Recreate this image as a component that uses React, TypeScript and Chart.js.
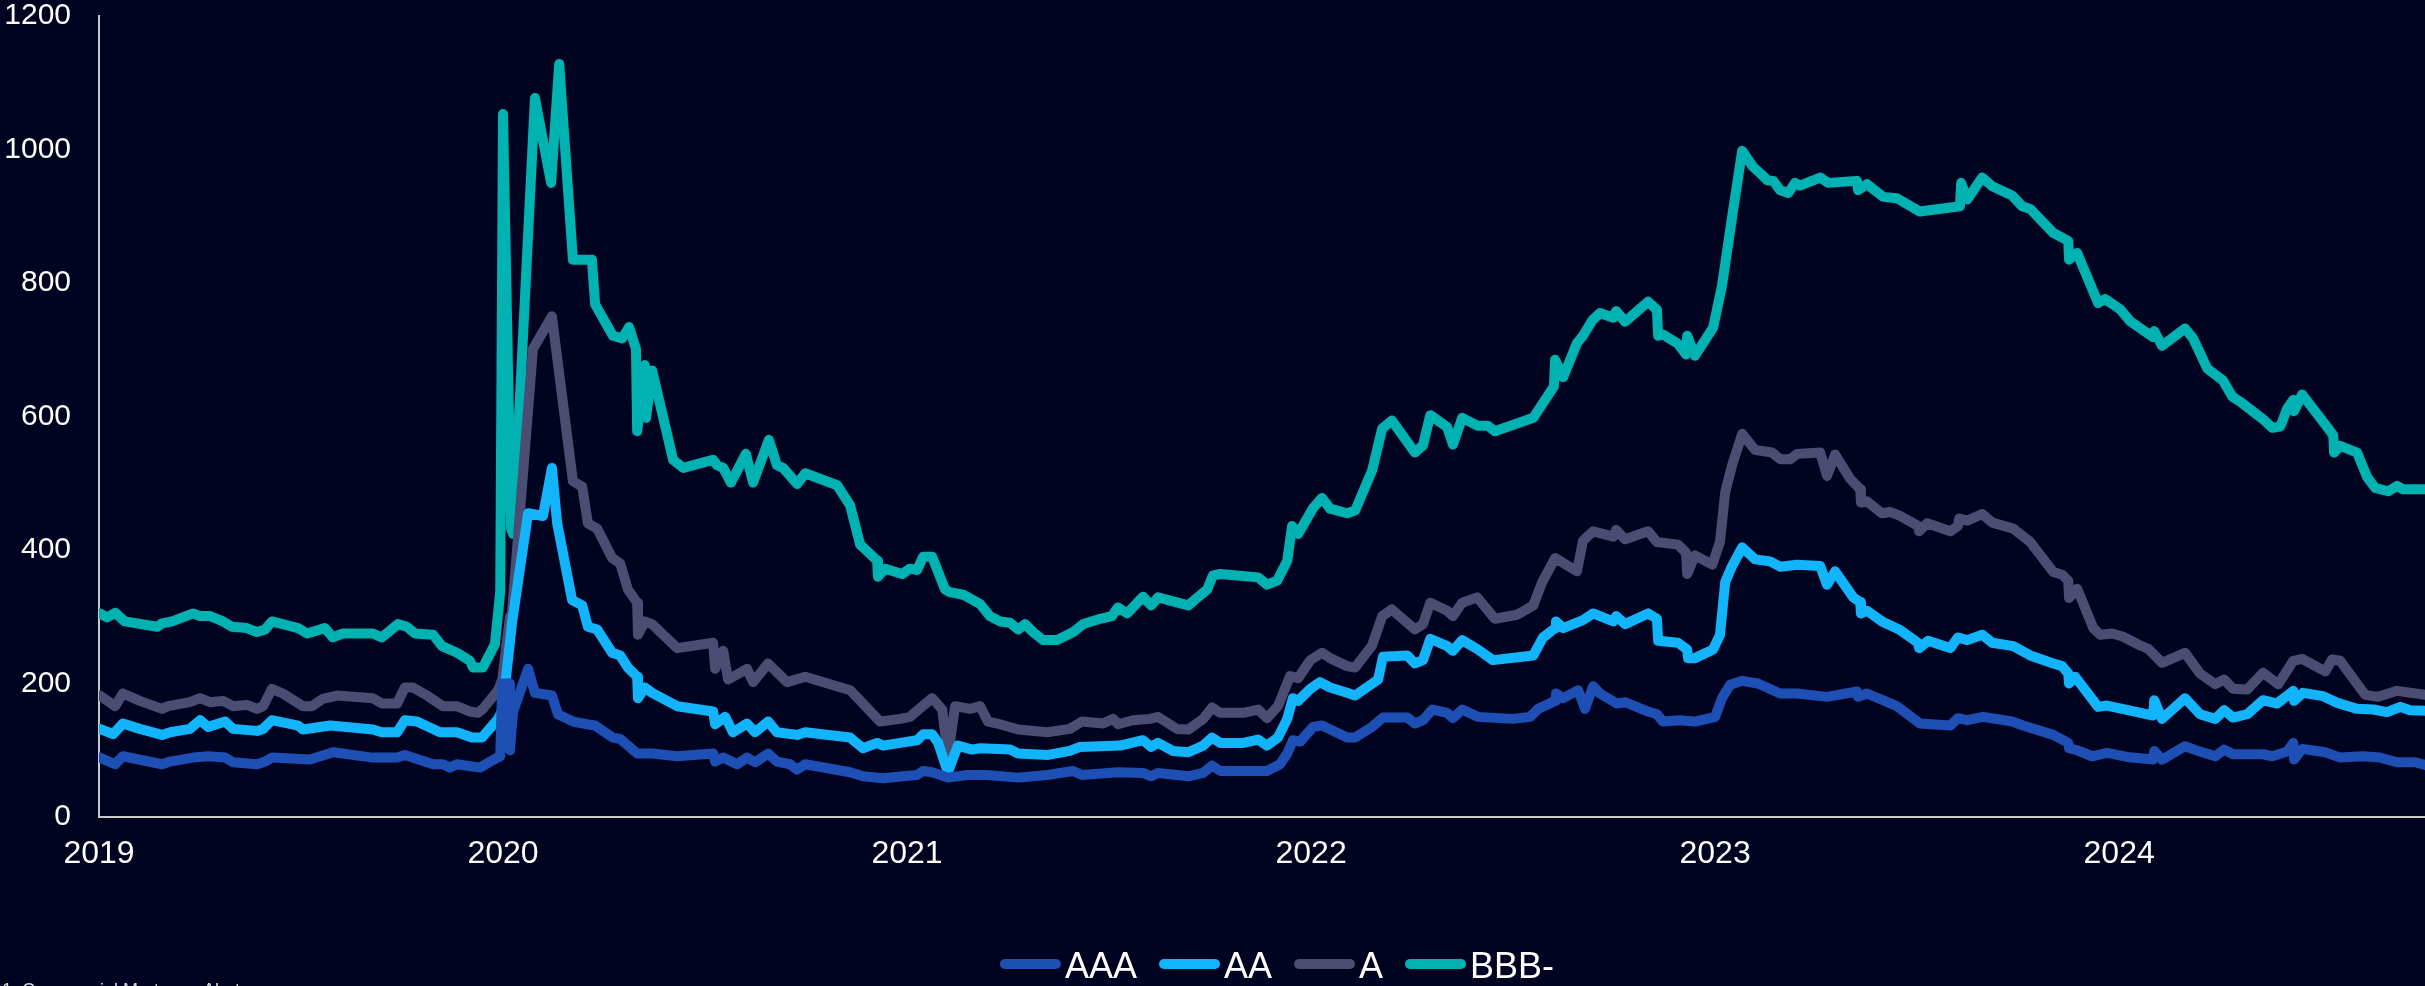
import React, { useEffect, useRef } from 'react';
import { Chart, registerables } from 'chart.js';

Chart.register(...registerables);

// ---------------- DATA ----------------
const seriesLabels = ['AAA', 'AA', 'A', 'BBB-'];
const yTicks = [0, 200, 400, 600, 800, 1000, 1200];
const yearTicks = [2019, 2020, 2021, 2022, 2023, 2024];
const lastDate = 2024.757;

const aaaDates = [
  2019.002, 2019.040, 2019.059, 2019.156, 2019.176, 2019.233, 2019.270, 2019.312, 2019.332, 2019.391,
  2019.411, 2019.428, 2019.522, 2019.579, 2019.678, 2019.738, 2019.757, 2019.827, 2019.851, 2019.869,
  2019.886, 2019.943, 2019.968, 2019.993, 2019.998,
  2020.015, 2020.017, 2020.025, 2020.062, 2020.079, 2020.121, 2020.136, 2020.173, 2020.208, 2020.228,
  2020.272, 2020.290, 2020.309, 2020.332, 2020.369, 2020.431, 2020.520, 2020.525, 2020.545, 2020.579,
  2020.604, 2020.624, 2020.656, 2020.678, 2020.710, 2020.728, 2020.748, 2020.859, 2020.891, 2020.941,
  2020.990,
  2021.025, 2021.040, 2021.062, 2021.101, 2021.149, 2021.198, 2021.275, 2021.347, 2021.411, 2021.433,
  2021.522, 2021.584, 2021.604, 2021.621, 2021.696, 2021.733, 2021.755, 2021.775, 2021.891, 2021.923,
  2021.941, 2021.955, 2021.973,
  2022.005, 2022.027, 2022.089, 2022.109, 2022.151, 2022.178, 2022.238, 2022.257, 2022.277, 2022.300,
  2022.337, 2022.351, 2022.374, 2022.413, 2022.500, 2022.542, 2022.562, 2022.604, 2022.606, 2022.624,
  2022.661, 2022.678, 2022.698, 2022.715, 2022.757, 2022.777, 2022.834, 2022.856, 2022.871, 2022.913,
  2022.950,
  2023.000, 2023.017, 2023.037, 2023.067, 2023.106, 2023.161, 2023.203, 2023.277, 2023.351, 2023.354,
  2023.376, 2023.450, 2023.507, 2023.582, 2023.601, 2023.624, 2023.663, 2023.735, 2023.762, 2023.837,
  2023.874, 2023.876, 2023.896, 2023.933, 2023.970,
  2024.020, 2024.084, 2024.087, 2024.106, 2024.163, 2024.200, 2024.238, 2024.260, 2024.282, 2024.356,
  2024.379, 2024.416, 2024.431, 2024.433, 2024.453, 2024.510, 2024.547, 2024.604, 2024.646, 2024.688,
  2024.733, 2024.757,
];
const aaaValues = [
  89, 79, 91, 79, 83, 89, 91, 89, 82, 79,
  83, 89, 86, 97, 89, 89, 93, 79, 79, 74,
  79, 74, 83, 91, 200,
  200, 100, 158, 222, 186, 182, 154, 143, 139, 137,
  119, 117, 107, 95, 95, 91, 95, 83, 89, 79,
  89, 82, 95, 83, 79, 71, 79, 67, 61, 58,
  61,
  63, 69, 67, 59, 63, 63, 59, 63, 69, 63,
  67, 66, 61, 66, 61, 66, 77, 69, 69, 79,
  95, 115, 113,
  135, 137, 119, 119, 135, 149, 149, 140, 145, 161,
  156, 148, 161, 150, 147, 150, 162, 174, 185, 178,
  190, 162, 196, 185, 170, 172, 158, 154, 143, 145,
  143,
  150, 178, 198, 204, 200, 185, 185, 180, 188, 180,
  185, 166, 140, 137, 148, 145, 150, 143, 137, 123,
  111, 103, 100, 91, 96,
  90, 86, 99, 86, 106, 98, 91, 101, 94, 94,
  91, 98, 111, 86, 102, 97, 89, 91, 89, 82,
  82, 78,
];

const aaDates = [
  2019.002, 2019.035, 2019.059, 2019.101, 2019.156, 2019.176, 2019.225, 2019.250, 2019.270, 2019.312,
  2019.332, 2019.391, 2019.406, 2019.428, 2019.493, 2019.505, 2019.572, 2019.678, 2019.700, 2019.738,
  2019.757, 2019.787, 2019.844, 2019.886, 2019.923, 2019.948, 2019.988, 2019.998,
  2020.015, 2020.022, 2020.062, 2020.099, 2020.121, 2020.134, 2020.171, 2020.196, 2020.210, 2020.233,
  2020.270, 2020.290, 2020.309, 2020.332, 2020.334, 2020.351, 2020.369, 2020.431, 2020.520, 2020.525,
  2020.550, 2020.569, 2020.604, 2020.624, 2020.656, 2020.678, 2020.728, 2020.748, 2020.859, 2020.891,
  2020.926, 2020.941, 2020.983,
  2021.025, 2021.040, 2021.062, 2021.077, 2021.101, 2021.126, 2021.161, 2021.181, 2021.255, 2021.275,
  2021.349, 2021.403, 2021.428, 2021.527, 2021.584, 2021.604, 2021.621, 2021.658, 2021.696, 2021.733,
  2021.755, 2021.775, 2021.832, 2021.869, 2021.891, 2021.918, 2021.941, 2021.955, 2021.968, 2021.998,
  2022.022, 2022.047, 2022.089, 2022.109, 2022.166, 2022.178, 2022.238, 2022.257, 2022.277, 2022.295,
  2022.337, 2022.351, 2022.374, 2022.413, 2022.450, 2022.550, 2022.574, 2022.604, 2022.606, 2022.624,
  2022.673, 2022.698, 2022.748, 2022.755, 2022.777, 2022.834, 2022.856, 2022.859, 2022.908, 2022.931,
  2022.933, 2022.950, 2022.995,
  2023.012, 2023.025, 2023.042, 2023.067, 2023.099, 2023.136, 2023.161, 2023.203, 2023.260, 2023.277,
  2023.297, 2023.342, 2023.359, 2023.361, 2023.376, 2023.413, 2023.458, 2023.502, 2023.505, 2023.527,
  2023.582, 2023.601, 2023.624, 2023.661, 2023.686, 2023.738, 2023.780, 2023.837, 2023.859, 2023.874,
  2023.876, 2023.891, 2023.948, 2023.970,
  2024.045, 2024.084, 2024.087, 2024.106, 2024.163, 2024.200, 2024.238, 2024.260, 2024.282, 2024.317,
  2024.356, 2024.391, 2024.431, 2024.433, 2024.455, 2024.505, 2024.540, 2024.589, 2024.629, 2024.663,
  2024.696, 2024.720, 2024.757,
];
const aaValues = [
  132, 124, 140, 132, 123, 127, 132, 145, 135, 143,
  132, 129, 132, 145, 137, 131, 137, 131, 127, 127,
  145, 143, 127, 127, 119, 119, 147, 160,
  250, 290, 455, 451, 523, 440, 325, 317, 285, 281,
  246, 242, 224, 210, 178, 194, 186, 166, 158, 139,
  150, 127, 140, 127, 143, 127, 123, 127, 119, 103,
  111, 107, 111,
  115, 124, 124, 111, 67, 107, 101, 103, 101, 95,
  93, 99, 105, 107, 115, 105, 111, 99, 97, 107,
  119, 111, 111, 116, 107, 119, 147, 178, 174, 192,
  202, 194, 186, 182, 206, 240, 242, 230, 235, 267,
  256, 249, 265, 251, 235, 242, 269, 283, 293, 283,
  295, 305, 293, 301, 289, 305, 297, 264, 261, 251,
  238, 238, 251,
  273, 352, 376, 404, 386, 383, 375, 378, 376, 348,
  368, 329, 322, 305, 309, 293, 280, 261, 253, 264,
  253, 269, 265, 273, 261, 256, 242, 230, 226, 215,
  200, 210, 165, 167,
  157, 152, 175, 147, 178, 154, 147, 160, 149, 154,
  175, 170, 189, 174, 186, 181, 171, 162, 161, 157,
  165, 160, 159,
];

const aDates = [
  2019.002, 2019.040, 2019.059, 2019.101, 2019.156, 2019.171, 2019.225, 2019.250, 2019.275, 2019.307,
  2019.332, 2019.366, 2019.391, 2019.406, 2019.428, 2019.455, 2019.505, 2019.527, 2019.554, 2019.589,
  2019.678, 2019.700, 2019.738, 2019.757, 2019.777, 2019.812, 2019.851, 2019.886, 2019.918, 2019.938,
  2019.950, 2019.988, 2019.998,
  2020.017, 2020.022, 2020.074, 2020.121, 2020.173, 2020.196, 2020.210, 2020.233, 2020.270, 2020.290,
  2020.309, 2020.332, 2020.334, 2020.351, 2020.369, 2020.431, 2020.520, 2020.525, 2020.545, 2020.557,
  2020.604, 2020.619, 2020.656, 2020.703, 2020.748, 2020.859, 2020.933, 2020.983,
  2021.007, 2021.062, 2021.087, 2021.101, 2021.119, 2021.156, 2021.181, 2021.200, 2021.230, 2021.275,
  2021.347, 2021.403, 2021.433, 2021.485, 2021.510, 2021.522, 2021.559, 2021.601, 2021.621, 2021.668,
  2021.696, 2021.733, 2021.755, 2021.775, 2021.832, 2021.869, 2021.891, 2021.918, 2021.948, 2021.968,
  2021.998,
  2022.027, 2022.047, 2022.089, 2022.109, 2022.151, 2022.176, 2022.200, 2022.257, 2022.277, 2022.295,
  2022.337, 2022.351, 2022.374, 2022.411, 2022.455, 2022.510, 2022.550, 2022.572, 2022.604, 2022.658,
  2022.673, 2022.698, 2022.748, 2022.755, 2022.777, 2022.834, 2022.856, 2022.908, 2022.928, 2022.931,
  2022.950, 2022.993,
  2023.012, 2023.025, 2023.042, 2023.067, 2023.099, 2023.141, 2023.161, 2023.186, 2023.203, 2023.260,
  2023.277, 2023.297, 2023.334, 2023.359, 2023.361, 2023.376, 2023.413, 2023.433, 2023.458, 2023.502,
  2023.505, 2023.525, 2023.582, 2023.601, 2023.604, 2023.624, 2023.661, 2023.686, 2023.738, 2023.780,
  2023.837, 2023.859, 2023.874, 2023.876, 2023.896, 2023.936, 2023.953, 2023.983,
  2024.010, 2024.052, 2024.072, 2024.106, 2024.163, 2024.200, 2024.238, 2024.260, 2024.282, 2024.317,
  2024.356, 2024.394, 2024.431, 2024.453, 2024.510, 2024.527, 2024.547, 2024.609, 2024.641, 2024.688,
  2024.757,
];
const aValues = [
  182, 166, 185, 174, 162, 166, 172, 178, 172, 174,
  166, 168, 162, 166, 192, 185, 166, 166, 177, 182,
  178, 170, 170, 194, 194, 182, 166, 166, 158, 156,
  162, 190, 206,
  300, 305, 701, 750, 503, 495, 440, 432, 388, 380,
  341, 321, 273, 293, 289, 253, 261, 222, 249, 206,
  222, 202, 230, 202, 210, 190, 143, 147,
  150, 178, 161, 91, 166, 162, 166, 143, 139, 131,
  127, 132, 143, 140, 147, 139, 145, 147, 150, 132,
  131, 147, 164, 156, 156, 161, 148, 166, 211, 208,
  235,
  246, 238, 226, 224, 257, 301, 311, 281, 289, 321,
  309, 301, 321, 329, 297, 303, 317, 352, 388, 368,
  414, 428, 420, 430, 416, 428, 412, 408, 396, 364,
  392, 378,
  412, 487, 527, 574, 550, 546, 536, 536, 544, 546,
  511, 543, 507, 491, 471, 473, 455, 457, 451, 436,
  428, 440, 428, 436, 447, 444, 454, 441, 432, 412,
  367, 363, 354, 328, 342, 283, 273, 275,
  270, 257, 252, 231, 246, 215, 199, 206, 192, 191,
  216, 199, 234, 237, 218, 236, 234, 183, 180, 189,
  183,
];

const bbbDates = [
  2019.002, 2019.020, 2019.040, 2019.064, 2019.144, 2019.156, 2019.181, 2019.233, 2019.250, 2019.275,
  2019.307, 2019.329, 2019.366, 2019.391, 2019.411, 2019.428, 2019.493, 2019.515, 2019.559, 2019.579,
  2019.604, 2019.678, 2019.700, 2019.740, 2019.762, 2019.782, 2019.827, 2019.849, 2019.886, 2019.918,
  2019.926, 2019.950, 2019.980, 2019.993,
  2020.000, 2020.020, 2020.025, 2020.079, 2020.119, 2020.139, 2020.173, 2020.220, 2020.228, 2020.272,
  2020.295, 2020.312, 2020.329, 2020.332, 2020.351, 2020.354, 2020.369, 2020.421, 2020.446, 2020.520,
  2020.530, 2020.545, 2020.564, 2020.601, 2020.619, 2020.658, 2020.678, 2020.693, 2020.728, 2020.748,
  2020.827, 2020.859, 2020.884, 2020.926, 2020.928, 2020.946, 2020.988,
  2021.007, 2021.025, 2021.040, 2021.062, 2021.094, 2021.106, 2021.139, 2021.181, 2021.205, 2021.230,
  2021.255, 2021.275, 2021.292, 2021.312, 2021.337, 2021.371, 2021.411, 2021.436, 2021.478, 2021.507,
  2021.522, 2021.545, 2021.584, 2021.604, 2021.621, 2021.696, 2021.743, 2021.757, 2021.775, 2021.869,
  2021.891, 2021.916, 2021.941, 2021.953, 2021.968,
  2022.005, 2022.027, 2022.047, 2022.089, 2022.109, 2022.151, 2022.176, 2022.200, 2022.257, 2022.277,
  2022.295, 2022.337, 2022.351, 2022.374, 2022.413, 2022.438, 2022.455, 2022.550, 2022.601, 2022.604,
  2022.624, 2022.658, 2022.673, 2022.696, 2022.715, 2022.748, 2022.755, 2022.777, 2022.834, 2022.856,
  2022.859, 2022.871, 2022.908, 2022.928, 2022.931, 2022.950, 2022.995,
  2023.017, 2023.042, 2023.067, 2023.094, 2023.116, 2023.129, 2023.144, 2023.161, 2023.181, 2023.198,
  2023.210, 2023.260, 2023.280, 2023.351, 2023.354, 2023.376, 2023.416, 2023.450, 2023.507, 2023.606,
  2023.609, 2023.624, 2023.661, 2023.686, 2023.735, 2023.760, 2023.780, 2023.837, 2023.874, 2023.876,
  2023.896, 2023.948, 2023.965,
  2024.002, 2024.027, 2024.084, 2024.087, 2024.106, 2024.163, 2024.183, 2024.218, 2024.257, 2024.280,
  2024.300, 2024.356, 2024.379, 2024.399, 2024.416, 2024.431, 2024.433, 2024.453, 2024.510, 2024.530,
  2024.532, 2024.547, 2024.589, 2024.614, 2024.634, 2024.666, 2024.688, 2024.703, 2024.757,
];
const bbbValues = [
  305, 299, 306, 293, 285, 290, 293, 305, 301, 301,
  293, 285, 283, 277, 281, 293, 283, 275, 283, 269,
  275, 275, 269, 289, 285, 275, 273, 256, 246, 234,
  224, 224, 259, 337,
  1053, 432, 424, 1077, 950, 1128, 835, 835, 768, 721,
  717, 734, 701, 578, 677, 598, 669, 535, 523, 535,
  527, 523, 501, 544, 501, 565, 527, 523, 499, 515,
  497, 467, 408, 384, 360, 372, 364,
  372, 370, 390, 390, 341, 337, 333, 319, 301, 293,
  291, 281, 289, 277, 265, 265, 277, 289, 297, 301,
  314, 305, 330, 317, 329, 317, 341, 362, 364, 359,
  348, 354, 384, 436, 424,
  463, 478, 462, 455, 459, 519, 582, 594, 546, 557,
  602, 584, 558, 598, 586, 586, 578, 598, 645, 685,
  659, 710, 721, 744, 755, 748, 758, 742, 772, 760,
  721, 723, 709, 693, 721, 691, 733,
  796, 899, 998, 974, 962, 954, 953, 939, 935, 950,
  946, 958, 950, 953, 939, 948, 929, 927, 907, 915,
  950, 925, 958, 945, 931, 915, 911, 875, 863, 835,
  845, 770, 776,
  761, 743, 719, 728, 706, 732, 717, 672, 654, 630,
  622, 596, 583, 585, 612, 625, 608, 633, 588, 572,
  546, 556, 546, 509, 493, 488, 496, 491, 491,
];

const footnote = '1. Commercial Mortgage Alert';

// ---------------- STYLE ----------------
const BG = '#000421';
const COLORS = ['#1e4fb4', '#12b4fc', '#4c4d73', '#00b2b2'];
const FONT = "'Liberation Sans', Arial, sans-serif";

const refLegend = {
  id: 'refLegend',
  afterDraw(chart: any) {
    const ctx = chart.ctx;
    const area = chart.chartArea;
    ctx.save();
    ctx.font = `36px ${FONT}`;
    const lineLen = 61;
    const gapText = 4;
    const gapItem = 22;
    const items = chart.data.datasets.map((ds: any) => ({
      label: ds.label,
      color: ds.borderColor,
      w: ctx.measureText(ds.label).width,
    }));
    const total =
      items.reduce((s: number, it: any) => s + lineLen + gapText + it.w, 0) + gapItem * (items.length - 1);
    let x = (area.left + area.right) / 2 + 15 - total / 2;
    const lineY = 964;
    const textY = 978;
    for (const it of items) {
      ctx.strokeStyle = it.color;
      ctx.lineWidth = 10;
      ctx.lineCap = 'round';
      ctx.beginPath();
      ctx.moveTo(x + 5, lineY);
      ctx.lineTo(x + lineLen - 5, lineY);
      ctx.stroke();
      ctx.fillStyle = '#ffffff';
      ctx.textAlign = 'left';
      ctx.textBaseline = 'alphabetic';
      ctx.fillText(it.label, x + lineLen + gapText, textY);
      x += lineLen + gapText + it.w + gapItem;
    }
    ctx.restore();
  },
};

export default function App() {
  const ref = useRef<HTMLCanvasElement>(null);

  useEffect(() => {
    if (!ref.current) return;
    const toPts = (d: number[], v: number[]) => d.map((x, i) => ({ x, y: v[i] }));
    const series = [
      toPts(aaaDates, aaaValues),
      toPts(aaDates, aaValues),
      toPts(aDates, aValues),
      toPts(bbbDates, bbbValues),
    ];
    const chart = new Chart(ref.current, {
      type: 'line',
      data: {
        datasets: seriesLabels.map((label, i) => ({
          label,
          data: series[i],
          borderColor: COLORS[i],
          backgroundColor: COLORS[i],
          borderWidth: 10,
          borderJoinStyle: 'round',
          borderCapStyle: 'round',
          pointRadius: 0,
          pointHoverRadius: 0,
          tension: 0,
          fill: false,
        })),
      },
      options: {
        animation: false,
        responsive: false,
        maintainAspectRatio: false,
        layout: { autoPadding: false, padding: { left: 4, right: 0, top: 16, bottom: 114 } },
        plugins: {
          legend: { display: false },
          tooltip: { enabled: false },
        },
        scales: {
          x: {
            type: 'linear',
            min: yearTicks[0],
            max: lastDate,
            grid: { display: false, drawTicks: false },
            border: { display: true, color: '#c8c8c8', width: 2 },
            afterBuildTicks: (scale: any) => {
              scale.ticks = yearTicks.map((v) => ({ value: v }));
            },
            afterFit: (scale: any) => {
              scale.height = 55;
              scale.paddingLeft = 0;
              scale.paddingRight = 0;
            },
            ticks: {
              autoSkip: false,
              maxRotation: 0,
              padding: 20,
              color: '#ffffff',
              font: { family: FONT, size: 32, lineHeight: 1.1 },
              callback: (v: any) => String(v),
            },
          },
          y: {
            min: yTicks[0],
            max: yTicks[yTicks.length - 1],
            grid: { display: false, drawTicks: false },
            border: { display: true, color: '#c8c8c8', width: 2 },
            afterBuildTicks: (scale: any) => {
              scale.ticks = yTicks.map((v) => ({ value: v }));
            },
            afterFit: (scale: any) => {
              scale.width = 95;
              scale.paddingTop = 0;
              scale.paddingBottom = 0;
            },
            ticks: {
              padding: 28,
              color: '#ffffff',
              font: { family: FONT, size: 30, lineHeight: 1.1 },
              callback: (v: any) => String(v),
            },
          },
        },
      },
      plugins: [refLegend],
    } as any);
    return () => chart.destroy();
  }, []);

  return (
    <div
      style={{
        position: 'fixed',
        left: 0,
        top: 0,
        width: 2425,
        height: 986,
        overflow: 'hidden',
        background: BG,
      }}
    >
      <canvas
        ref={ref}
        width={2425}
        height={986}
        style={{ display: 'block', width: 2425, height: 986 }}
      />
      <div
        style={{
          position: 'absolute',
          left: 2,
          top: 981,
          fontFamily: FONT,
          fontSize: 18,
          lineHeight: '18px',
          color: '#d9d9d9',
          whiteSpace: 'nowrap',
        }}
      >
        {footnote}
      </div>
    </div>
  );
}
